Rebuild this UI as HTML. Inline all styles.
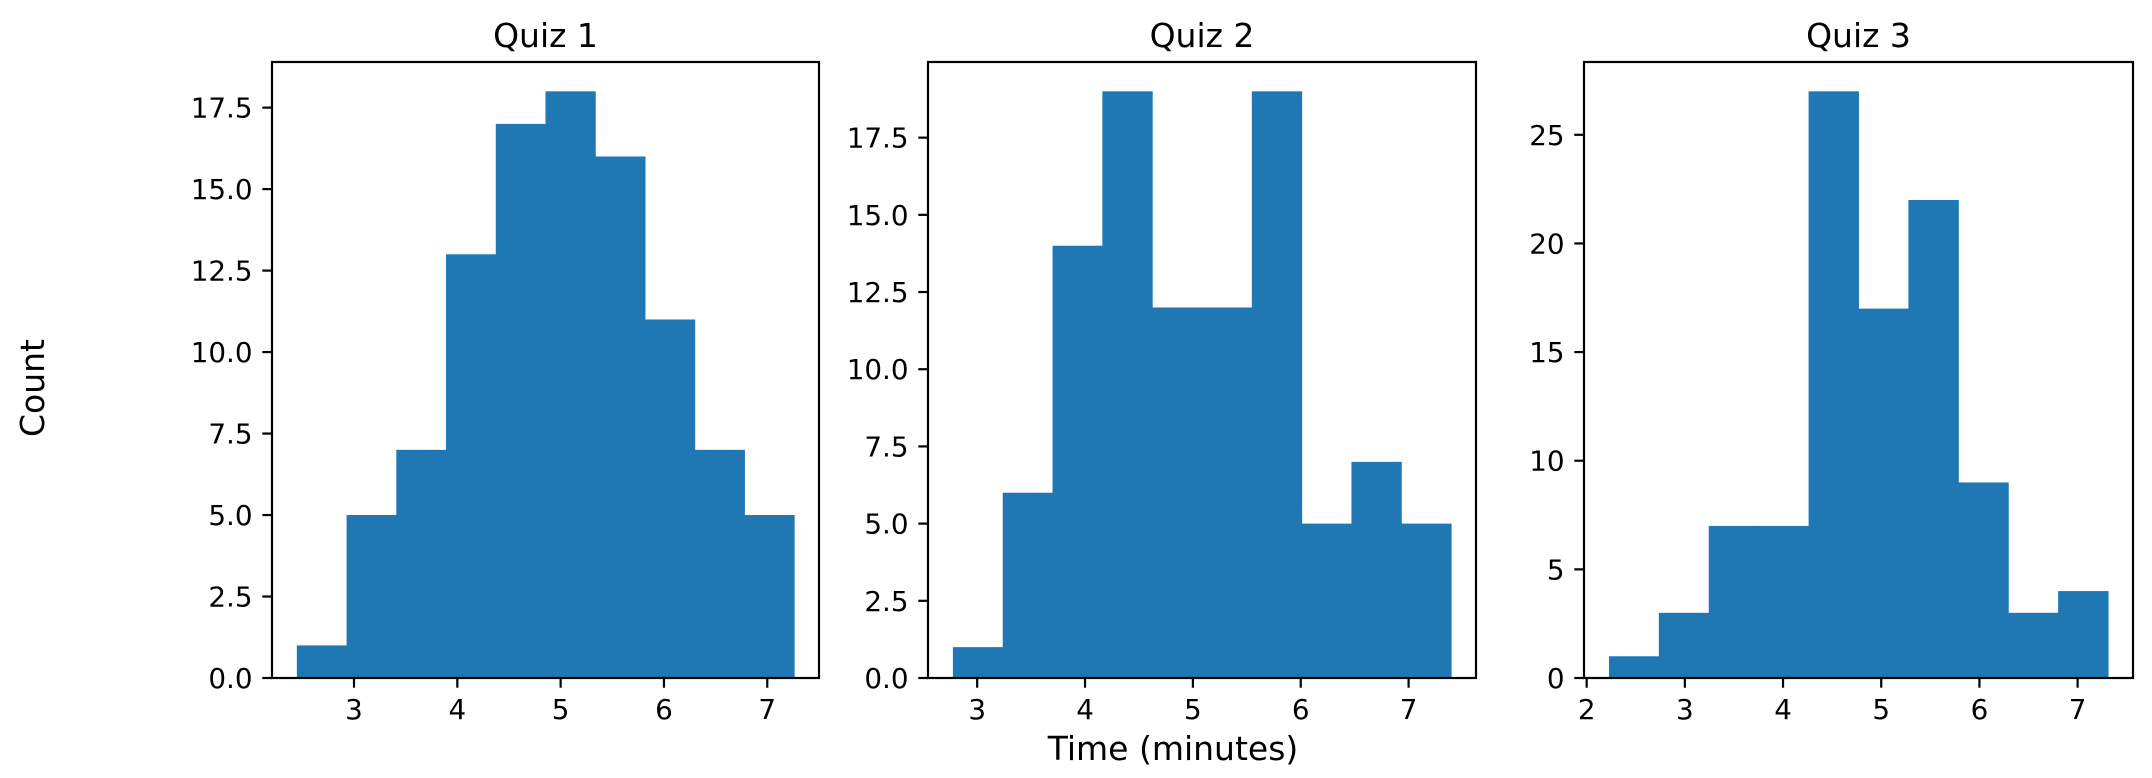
<!DOCTYPE html>
<html><head><meta charset="utf-8">
<style>
html,body{margin:0;padding:0;background:#fff;}
svg{display:block;font-family:"DejaVu Sans","Liberation Sans",sans-serif;}
</style></head>
<body>
<svg id="fig" width="2152" height="778" viewBox="0 0 2152 778" xmlns="http://www.w3.org/2000/svg">
<rect width="2152" height="778" fill="#fff"/>
<text x="1173" y="760" font-size="33" text-anchor="middle" fill="#000">Time (minutes)</text>
<text transform="translate(44,388) rotate(-90)" font-size="33" text-anchor="middle" fill="#000">Count</text>
</svg>
<script>
const titles = ["Quiz 1", "Quiz 2", "Quiz 3"];
const q1Counts = [1,5,7,13,17,18,16,11,7,5];
const q2Counts = [1,6,14,19,12,12,19,5,7,5];
const q3Counts = [1,3,7,7,27,17,22,9,3,4];
const binRanges = [[2.447,7.26],[2.775,7.394],[2.227,7.31]];
const xTicks = [[3,4,5,6,7],[3,4,5,6,7],[2,3,4,5,6,7]];
const yTicks1 = [0,2.5,5,7.5,10,12.5,15,17.5];
const yTicks2 = [0,2.5,5,7.5,10,12.5,15,17.5];
const yTicks3 = [0,5,10,15,20,25];

const NS = "http://www.w3.org/2000/svg";
const svg = document.getElementById('fig');
const panels = [
  {L:272, R:819, counts:q1Counts, yt:yTicks1, fmt:v=>v.toFixed(1)},
  {L:928, R:1476, counts:q2Counts, yt:yTicks2, fmt:v=>v.toFixed(1)},
  {L:1584, R:2133, counts:q3Counts, yt:yTicks3, fmt:v=>String(v)}
];
const T = 62, B = 678;
function mk(tag, attrs){const e=document.createElementNS(NS,tag);for(const k in attrs)e.setAttribute(k,attrs[k]);return e;}

panels.forEach((p,i)=>{
  const g = mk('g',{});
  
  
  svg.appendChild(g);
  const [a,b] = binRanges[i];
  const span = b - a;
  const x0 = a - span*0.05, x1 = b + span*0.05;
  const xs = v => p.L + (v - x0)/(x1 - x0)*(p.R - p.L);
  const ymax = Math.max(...p.counts)*1.05;
  const ys = v => B - v/ymax*(B - T);
  const n = p.counts.length, w = span/n;
  p.counts.forEach((c,j)=>{
    const xa = xs(a + j*w), xb = xs(a + (j+1)*w);
    const r = mk('rect',{x:xa, y:ys(c), width:xb-xa+0.5, height:B-ys(c), fill:'#1f77b4'});
    
    
    g.appendChild(r);
  });
  const fr = mk('rect',{x:p.L, y:T, width:p.R-p.L, height:B-T, fill:'none', stroke:'#000', 'stroke-width':2.2});
  
  
  g.appendChild(fr);
  xTicks[i].forEach(v=>{
    const x = xs(v);
    const tl = mk('line',{x1:x, x2:x, y1:B, y2:B+9.7, stroke:'#000', 'stroke-width':2.2});
    
    
    g.appendChild(tl);
    const t = mk('text',{x:x, y:719, 'font-size':27.8, 'text-anchor':'middle', fill:'#000'});
    t.textContent = String(v);
    
    
    g.appendChild(t);
  });
  p.yt.forEach(v=>{
    const y = ys(v);
    const tl = mk('line',{x1:p.L-9.7, x2:p.L, y1:y, y2:y, stroke:'#000', 'stroke-width':2.2});
    
    
    g.appendChild(tl);
    const t = mk('text',{x:p.L-19.4, y:y+10, 'font-size':27.8, 'text-anchor':'end', fill:'#000'});
    t.textContent = p.fmt(v);
    
    
    g.appendChild(t);
  });
  const tt = mk('text',{x:(p.L+p.R)/2, y:47, 'font-size':33, 'text-anchor':'middle', fill:'#000'});
  tt.textContent = titles[i];
  
  
  g.appendChild(tt);
});
</script>
</body></html>
